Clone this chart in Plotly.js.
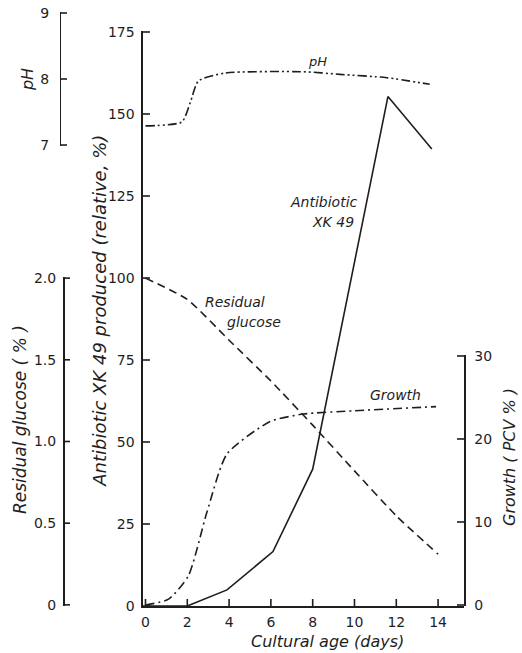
<!DOCTYPE html>
<html>
<head>
<meta charset="utf-8">
<script src="https://cdn.plot.ly/plotly-3.0.1.min.js"></script>
<style>html,body{margin:0;padding:0;background:#fff;}#chart{width:522px;height:653px;}</style>
</head>
<body>
<div id="chart"></div>
<script>
// Data
const antibioticDays = [0, 2, 3.9, 6.1, 8, 11.6, 13.7];
const antibioticPct  = [0, 0, 4.9, 16.6, 41.7, 155.3, 139.3];

const glucoseDays = [0, 2, 4, 6, 8, 10, 12, 14];
const glucosePct  = [2.0, 1.87, 1.62, 1.37, 1.10, 0.82, 0.545, 0.31];

const growthDays = [0, 1.1, 2.05, 2.93, 3.9, 5.96, 7.55, 10, 13.9];
const growthPCV  = [0, 0.7, 3.5, 11.1, 18.2, 22.1, 23.0, 23.4, 23.9];

const phDays = [0, 1.74, 2.15, 2.53, 3.8, 7.55, 9.3, 11.54, 13.6];
const phVals = [7.29, 7.35, 7.65, 7.97, 8.09, 8.11, 8.07, 8.02, 7.92];

const xTicks = [0, 2, 4, 6, 8, 10, 12, 14];
const antibioticTicks = [0, 25, 50, 75, 100, 125, 150, 175];
const glucoseTicks = [0, 0.5, 1.0, 1.5, 2.0];
const glucoseTickText = ['0', '0.5', '1.0', '1.5', '2.0'];
const phTicks = [7, 8, 9];
const growthTicks = [0, 10, 20, 30];

const ink = '#1e1e1e';
const FONT = 'DejaVu Sans, sans-serif';

// layout geometry (paper fractions / axis ranges)
const X_DOMAIN = [0.2649, 0.9044];
const X_RANGE = [-0.12, 15.24];
const Y_RANGE = [0, 175.3];
const Y2_RANGE = [-0.007, 2.007];
const Y3_RANGE = [6.985, 9.015];
const Y4_RANGE = [-0.12, 30.12];
const POS_GLUCOSE = 0.1056, POS_PH = 0.0996;

// tick-mark lengths (7 px) in each axis' units
const TICK_Y = 7 / 3.28;       // antibiotic units
const TICK_X = 7 / 20.9;       // days
const TICK_P = 7 / 502;        // paper fraction (helper axis x2)

function vTicks(vals, y0, y1) {        // vertical tick segments at x = vals
  const xs = [], ys = [];
  vals.forEach(v => { xs.push(v, v, null); ys.push(y0, y1, null); });
  return {x: xs, y: ys};
}
function hTicks(vals, x0, x1) {        // horizontal tick segments at y = vals
  const xs = [], ys = [];
  vals.forEach(v => { xs.push(x0, x1, null); ys.push(v, v, null); });
  return {x: xs, y: ys};
}
const tickStyle = {mode: 'lines', line: {color: ink, width: 1.6}, hoverinfo: 'skip', showlegend: false, connectgaps: false};

const traces = [
  {x: antibioticDays, y: antibioticPct, xaxis: 'x', yaxis: 'y', mode: 'lines',
   line: {color: ink, width: 1.6}, hoverinfo: 'skip'},
  {x: glucoseDays, y: glucosePct, xaxis: 'x', yaxis: 'y2', mode: 'lines',
   line: {color: ink, width: 1.6, dash: '8px,5px', shape: 'spline', smoothing: 0.5}, hoverinfo: 'skip'},
  {x: growthDays, y: growthPCV, xaxis: 'x', yaxis: 'y4', mode: 'lines',
   line: {color: ink, width: 1.6, dash: '9px,4px,2px,4px', shape: 'spline', smoothing: 0.6}, hoverinfo: 'skip'},
  {x: phDays, y: phVals, xaxis: 'x', yaxis: 'y3', mode: 'lines',
   line: {color: ink, width: 1.6, dash: '9px,3px,2px,3px,2px,3px', shape: 'spline', smoothing: 0.6}, hoverinfo: 'skip'},
  // tick marks (pointing inward, as in the reference)
  Object.assign({}, tickStyle, vTicks(xTicks, 0, TICK_Y), {xaxis: 'x', yaxis: 'y'}),
  Object.assign({}, tickStyle, hTicks(antibioticTicks, X_RANGE[0], X_RANGE[0] + TICK_X), {xaxis: 'x', yaxis: 'y'}),
  Object.assign({}, tickStyle, hTicks(growthTicks, X_RANGE[1] - TICK_X, X_RANGE[1]), {xaxis: 'x', yaxis: 'y4'}),
  Object.assign({}, tickStyle, hTicks(glucoseTicks, POS_GLUCOSE, POS_GLUCOSE + TICK_P), {xaxis: 'x2', yaxis: 'y2'}),
  Object.assign({}, tickStyle, hTicks(phTicks, POS_PH, POS_PH + TICK_P), {xaxis: 'x2', yaxis: 'y3'})
];

const axisCommon = {
  showgrid: false, zeroline: false, showline: true, linecolor: ink, linewidth: 1.5,
  tickmode: 'array', ticks: '',
  tickfont: {family: FONT, size: 14, color: ink}, fixedrange: true
};

const layout = {
  width: 522, height: 653,
  margin: {l: 10, r: 10, t: 12, b: 47},
  paper_bgcolor: '#fff', plot_bgcolor: 'rgba(0,0,0,0)',
  showlegend: false,
  xaxis: Object.assign({}, axisCommon, {
    domain: X_DOMAIN, range: X_RANGE, anchor: 'y',
    tickvals: xTicks, ticktext: xTicks.map(String), ticklabelstandoff: 3
  }),
  // helper axis spanning the whole width, used only to place the free axes' tick marks
  xaxis2: {domain: [0, 1], range: [0, 1], visible: false, fixedrange: true, anchor: 'y2'},
  yaxis: Object.assign({}, axisCommon, {
    domain: [0, 0.968], range: Y_RANGE, anchor: 'x',
    tickvals: antibioticTicks, ticktext: antibioticTicks.map(String), ticklabelstandoff: 4
  }),
  yaxis2: Object.assign({}, axisCommon, {
    domain: [0, 0.5539], range: Y2_RANGE, anchor: 'free', position: POS_GLUCOSE, side: 'left',
    tickvals: glucoseTicks, ticktext: glucoseTickText, ticklabelstandoff: 4
  }),
  yaxis3: Object.assign({}, axisCommon, {
    domain: [0.7744, 1], range: Y3_RANGE, anchor: 'free', position: POS_PH, side: 'left',
    tickvals: phTicks, ticktext: phTicks.map(String), ticklabelstandoff: 8
  }),
  yaxis4: Object.assign({}, axisCommon, {
    domain: [0, 0.4226], range: Y4_RANGE, anchor: 'free', position: X_DOMAIN[1], side: 'right',
    tickvals: growthTicks, ticktext: growthTicks.map(String), ticklabelstandoff: 6
  }),
  annotations: [
    {text: 'pH', xref: 'paper', yref: 'paper', x: 0.034, y: 0.8855, textangle: -90,
     showarrow: false, xanchor: 'center', yanchor: 'middle', font: {family: FONT, size: 16, color: ink, style: 'italic'}},
    {text: 'Residual glucose ( % )', xref: 'paper', yref: 'paper', x: 0.02, y: 0.313, textangle: -90,
     showarrow: false, xanchor: 'center', yanchor: 'middle', font: {family: FONT, size: 17, color: ink, style: 'italic'}},
    {text: 'Antibiotic XK 49 produced (relative, %)', xref: 'paper', yref: 'paper', x: 0.1793, y: 0.497, textangle: -90,
     showarrow: false, xanchor: 'center', yanchor: 'middle', font: {family: FONT, size: 18, color: ink, style: 'italic'}},
    {text: 'Growth ( PCV % )', xref: 'paper', yref: 'paper', x: 0.994, y: 0.2508, textangle: -90,
     showarrow: false, xanchor: 'center', yanchor: 'middle', font: {family: FONT, size: 16, color: ink, style: 'italic'}},
    {text: 'Cultural age (days)', xref: 'paper', yref: 'paper', x: 0.6315, y: -0.0606,
     showarrow: false, xanchor: 'center', yanchor: 'middle', font: {family: FONT, size: 16, color: ink, style: 'italic'}},
    {text: 'pH', xref: 'x', yref: 'y', x: 8.25, y: 165.9, showarrow: false, xanchor: 'center', yanchor: 'middle',
     font: {family: FONT, size: 13, color: ink, style: 'italic'}},
    {text: 'Antibiotic', xref: 'x', yref: 'y', x: 10.28, y: 123.2, showarrow: false, xanchor: 'right', yanchor: 'middle',
     font: {family: FONT, size: 14, color: ink, style: 'italic'}},
    {text: 'XK 49', xref: 'x', yref: 'y', x: 10.07, y: 117.1, showarrow: false, xanchor: 'right', yanchor: 'middle',
     font: {family: FONT, size: 14, color: ink, style: 'italic'}},
    {text: 'Residual', xref: 'x', yref: 'y', x: 2.75, y: 92.7, showarrow: false, xanchor: 'left', yanchor: 'middle',
     font: {family: FONT, size: 14, color: ink, style: 'italic'}},
    {text: 'glucose', xref: 'x', yref: 'y', x: 3.8, y: 86.6, showarrow: false, xanchor: 'left', yanchor: 'middle',
     font: {family: FONT, size: 14, color: ink, style: 'italic'}},
    {text: 'Growth', xref: 'x', yref: 'y', x: 10.65, y: 64.3, showarrow: false, xanchor: 'left', yanchor: 'middle',
     font: {family: FONT, size: 14, color: ink, style: 'italic'}}
  ]
};

Plotly.newPlot('chart', traces, layout, {displayModeBar: false, staticPlot: true});
</script>
</body>
</html>
